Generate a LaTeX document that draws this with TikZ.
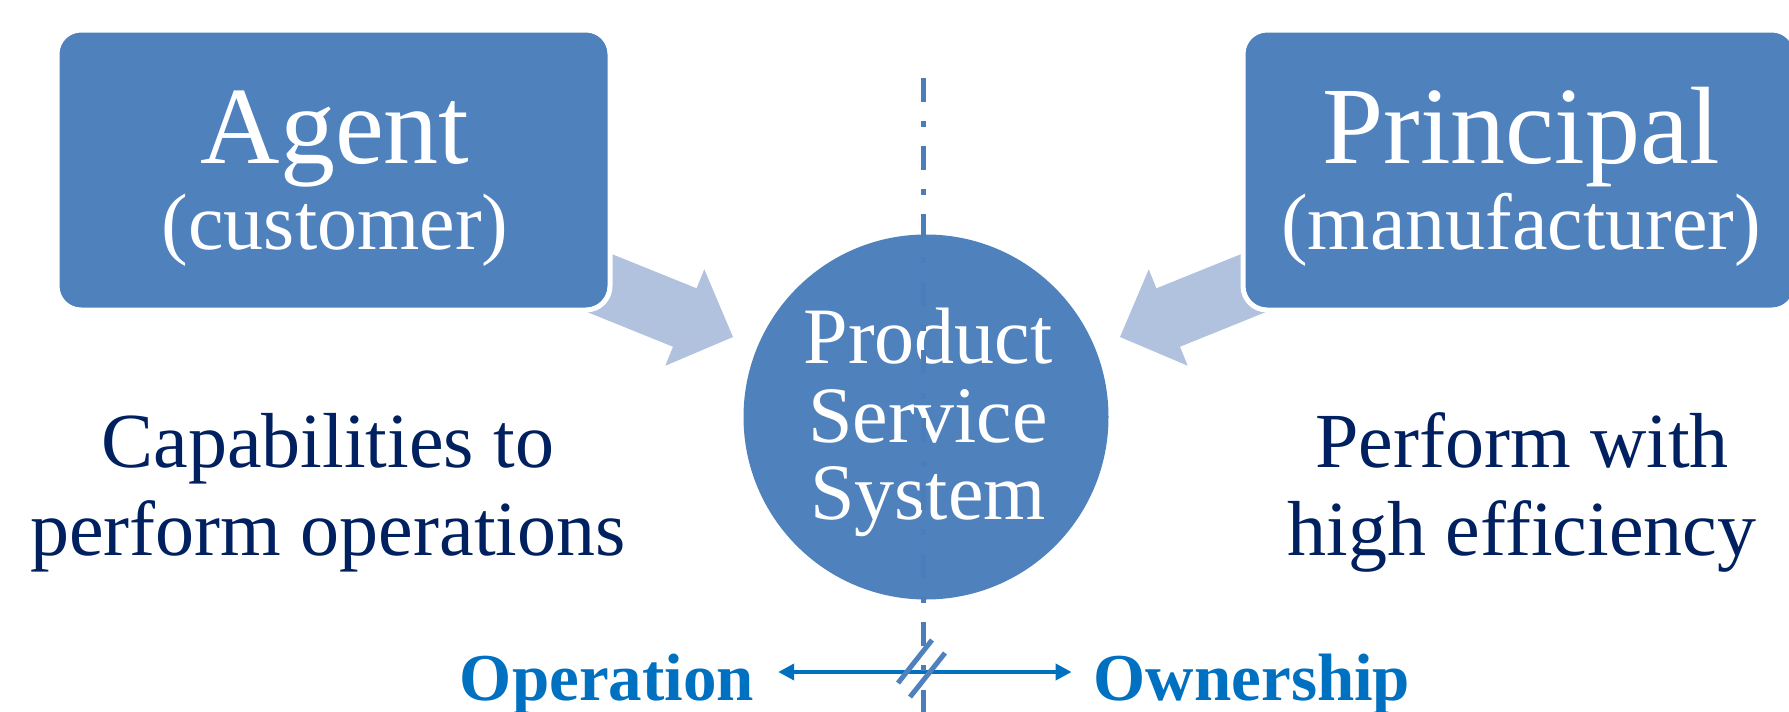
\documentclass[tikz,border=0pt]{standalone}
\usepackage{fontspec}
\setmainfont{Liberation Serif}
\usetikzlibrary{arrows.meta,calc}
\definecolor{boxblue}{HTML}{4F81BD}
\definecolor{paleblue}{HTML}{B1C2DE}
\definecolor{navy}{HTML}{002060}
\definecolor{linkblue}{HTML}{0070C0}
\definecolor{axisblue}{HTML}{4A7DBA}

\begin{document}
\begin{tikzpicture}[x=1pt,y=-1pt,
  rolebox/.style={rectangle, rounded corners=24pt, fill=boxblue, draw=white,
    line width=5pt, minimum width=553pt, minimum height=280pt, inner sep=0pt},
  title/.style={text=white, anchor=base, inner sep=0pt, font=\fontsize{110}{120}\selectfont},
  subtitle/.style={text=white, anchor=base, inner sep=0pt, font=\fontsize{80}{90}\selectfont},
  core/.style={circle, fill=boxblue, minimum size=365pt, inner sep=0pt},
  coretext/.style={text=white, anchor=base, inner sep=0pt, font=\fontsize{80}{90}\selectfont},
  goal/.style={text=navy, anchor=base, inner sep=0pt, font=\fontsize{78}{87}\selectfont},
  side/.style={text=linkblue, anchor=base, inner sep=0pt, font=\bfseries\fontsize{67}{75}\selectfont},
  axis/.style={draw=axisblue, line width=5pt, dash pattern=on 24pt off 19pt on 6pt off 19pt},
  link/.style={draw=linkblue, line width=4pt, {Triangle[length=16pt,width=16pt]}-{Triangle[length=16pt,width=16pt]}},
  breakmark/.style={draw=boxblue, line width=5pt},
]
\useasboundingbox (0,0) rectangle (1789,712);

% broad arrows from each party towards the system
\begin{scope}[shift={(733,337)}, rotate=-22]
  \fill[paleblue] (0,0) -- (-52,52) -- (-52,31.5) -- (-216,31.5) -- (-216,-31.5)
    -- (-52,-31.5) -- (-52,-52) -- cycle;
\end{scope}
\begin{scope}[shift={(1120,337)}, rotate=22]
  \fill[paleblue] (0,0) -- (52,52) -- (52,31.5) -- (216,31.5) -- (216,-31.5)
    -- (52,-31.5) -- (52,-52) -- cycle;
\end{scope}

% the two parties
\node[rolebox] (agent) at (333.5,170) {};
\node[rolebox] (principal) at (1519.5,170) {};
\node[title] (agentT) at (335,163) {Agent};
\node[subtitle] (agentS) at (335,249) {(customer)};
\node[title] (principalT) at (1521,163) {Principal};
\node[subtitle] (principalS) at (1521,249) {(manufacturer)};

% the product service system
\node[core] (pss) at (926,417) {};
\node[coretext] (pss1) at (928,363) {Product};
\node[coretext] (pss2) at (928,442) {Service};
\node[coretext] (pss3) at (928,519) {System};

% what each party brings
\node[goal] (cap1) at (328,467) {Capabilities to};
\node[goal] (cap2) at (328,555) {perform operations};
\node[goal] (eff1) at (1522,467) {Perform with};
\node[goal] (eff2) at (1522,555) {high efficiency};

% split between operation and ownership
\node[side] (op) at (607,700) {Operation};
\node[side] (own) at (1252,700) {Ownership};
\draw[link] ($(op.base east)+(24,-28)$) -- ($(own.base west)+(-22,-28)$);

\coordinate (axisT) at (923,78);
\coordinate (axisB) at (923,716);
\draw[axis] (axisT) -- (axisB);

\draw[breakmark] (932,640) -- (898,683);
\draw[breakmark] (945,653) -- (910,697);
\end{tikzpicture}
\end{document}
